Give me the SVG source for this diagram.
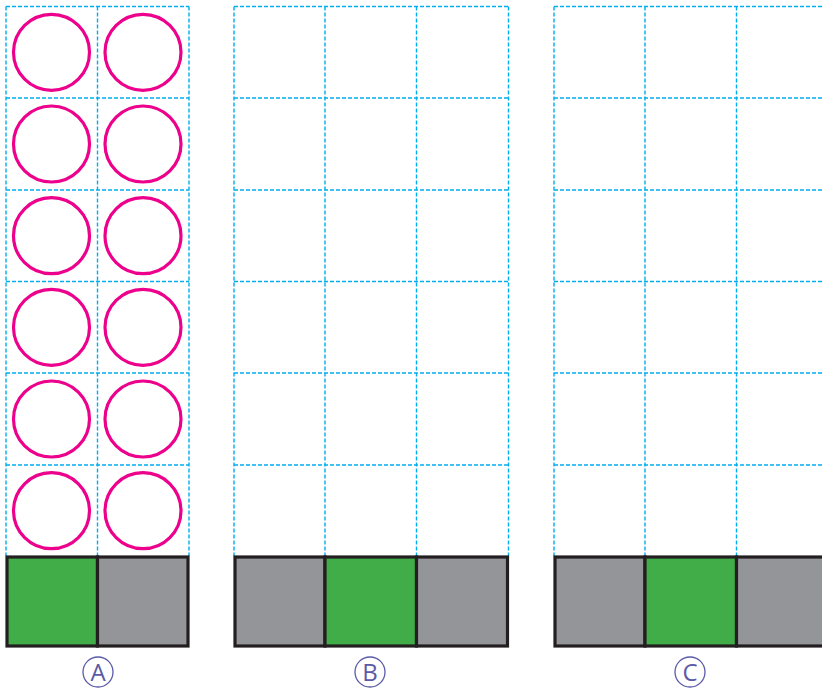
<svg xmlns="http://www.w3.org/2000/svg" width="822" height="689" viewBox="0 0 822 689">
<style>
.grid{fill:none;stroke:#00aeef;stroke-width:1.4;stroke-dasharray:4 2}
.ring{fill:none;stroke:#ec008c;stroke-width:3.2}
.box{stroke:#231f20;stroke-width:3.2}
.g{fill:#40ad48}
.s{fill:#939598}
.lc{fill:none;stroke:#5a5aa6;stroke-width:1.3}
.lt{font-family:"Open Sans","DejaVu Sans",sans-serif;font-size:24px;fill:#5a5aa6;text-anchor:middle}
</style>
<rect width="822" height="689" fill="#fff"/>
<g id="panelA">
<path class="grid" d="M6,6.5H189M6,98H189M6,190H189M6,281.5H189M6,373H189M6,465H189M6,6.5V556M97.5,6.5V556M189,6.5V556"/>
<g>
<circle class="ring" cx="51.5" cy="52.3" r="38"/><circle class="ring" cx="143" cy="52.3" r="38"/>
<circle class="ring" cx="51.5" cy="144" r="38"/><circle class="ring" cx="143" cy="144" r="38"/>
<circle class="ring" cx="51.5" cy="235.7" r="38"/><circle class="ring" cx="143" cy="235.7" r="38"/>
<circle class="ring" cx="51.5" cy="327.3" r="38"/><circle class="ring" cx="143" cy="327.3" r="38"/>
<circle class="ring" cx="51.5" cy="419" r="38"/><circle class="ring" cx="143" cy="419" r="38"/>
<circle class="ring" cx="51.5" cy="510.7" r="38"/><circle class="ring" cx="143" cy="510.7" r="38"/>
</g>
<rect class="box g" x="7" y="557" width="90.5" height="89"/>
<rect class="box s" x="97.5" y="557" width="90.5" height="89"/>
<circle class="lc" cx="98" cy="672" r="15"/>
<text class="lt" x="98" y="681">A</text>
</g>
<g id="panelB">
<path class="grid" d="M234,6.5H508.5M234,98H508.5M234,190H508.5M234,281.5H508.5M234,373H508.5M234,465H508.5M234,6.5V556M325,6.5V556M416.5,6.5V556M508.5,6.5V556"/>
<rect class="box s" x="235" y="557" width="90" height="89"/>
<rect class="box g" x="325" y="557" width="91.5" height="89"/>
<rect class="box s" x="416.5" y="557" width="91" height="89"/>
<circle class="lc" cx="370" cy="672" r="15"/>
<text class="lt" x="370" y="681">B</text>
</g>
<g id="panelC">
<path class="grid" d="M554,6.5H830M554,98H830M554,190H830M554,281.5H830M554,373H830M554,465H830M554,6.5V556M645,6.5V556M736.5,6.5V556"/>
<rect class="box s" x="555" y="557" width="90" height="89"/>
<rect class="box g" x="645" y="557" width="91.5" height="89"/>
<rect class="box s" x="736.5" y="557" width="92" height="89"/>
<circle class="lc" cx="690" cy="672" r="15"/>
<text class="lt" x="690" y="681">C</text>
</g>
</svg>
